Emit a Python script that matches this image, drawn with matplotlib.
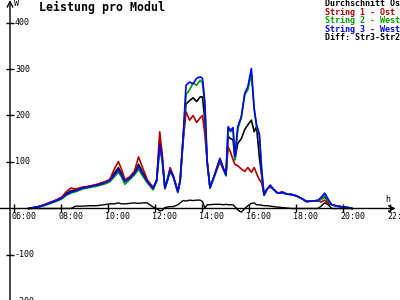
import matplotlib
matplotlib.use("Agg")
from matplotlib import pyplot as plt

# time of day in hours
hours = [6.60, 6.80, 7.00, 7.25, 7.50, 7.75, 8.00, 8.20, 8.40, 8.60,
         8.90, 9.20, 9.50, 9.80, 10.05, 10.25, 10.42, 10.55, 10.70, 10.90,
         11.10, 11.28, 11.45, 11.65, 11.90, 12.05, 12.18, 12.28, 12.40, 12.50,
         12.62, 12.75, 12.95, 13.05, 13.17, 13.30, 13.45, 13.60, 13.75, 13.90,
         14.00, 14.10, 14.20, 14.32, 14.50, 14.74, 14.90, 15.00, 15.09, 15.20,
         15.30, 15.38, 15.50, 15.65, 15.80, 15.93, 16.08, 16.20, 16.30, 16.42,
         16.52, 16.62, 16.75, 16.88, 17.05, 17.20, 17.40, 17.60, 17.80, 18.00,
         18.20, 18.43, 18.65, 18.90, 19.05, 19.20, 19.35, 19.50, 19.75, 20.00,
         20.20, 20.36]

# power per module in W
avg = [0, 2, 4, 7, 12, 17, 23, 32, 38, 40,
       45, 48, 51, 56, 61, 76, 88, 76, 58, 66,
       76, 95, 78, 60, 44, 60, 145, 112, 44, 60,
       83, 70, 36, 60, 148, 225, 232, 238, 230, 240,
       240, 190, 100, 45, 70, 105, 84, 72, 155, 150,
       148, 105, 140, 150, 170, 180, 190, 165, 176, 110,
       70, 29, 42, 48, 40, 33, 34, 31, 30, 27,
       22, 15, 16, 17, 20, 25, 15, 8, 5, 3,
       2, 0]
ost = [0, 2, 4, 8, 13, 18, 24, 36, 44, 42,
       46, 48, 52, 57, 62, 85, 101, 85, 62, 68,
       80, 111, 88, 62, 45, 62, 165, 120, 44, 60,
       88, 72, 38, 60, 140, 208, 190, 200, 185, 195,
       200, 160, 100, 45, 68, 100, 82, 72, 133, 120,
       105, 95, 92, 85, 80, 88, 78, 88, 75, 62,
       55, 29, 42, 46, 40, 33, 36, 31, 30, 27,
       22, 15, 16, 17, 14, 18, 10, 8, 5, 3,
       2, 0]
west2 = [0, 1, 3, 6, 10, 15, 20, 28, 33, 36,
         42, 45, 48, 52, 57, 68, 78, 68, 52, 62,
         72, 84, 70, 55, 40, 58, 128, 104, 42, 58,
         78, 68, 34, 58, 145, 245, 255, 270, 265, 276,
         270, 220, 98, 43, 70, 106, 84, 70, 170, 165,
         170, 105, 170, 195, 245, 255, 290, 212, 176, 158,
         80, 28, 42, 50, 40, 33, 34, 31, 30, 27,
         22, 15, 16, 17, 20, 28, 16, 8, 5, 3,
         2, 0]
west3 = [0, 2, 3, 7, 12, 16, 22, 30, 35, 38,
         44, 47, 50, 54, 60, 72, 83, 72, 58, 65,
         75, 90, 75, 58, 43, 60, 136, 110, 44, 60,
         83, 70, 36, 60, 150, 265, 272, 268, 280, 283,
         280, 230, 100, 45, 70, 108, 85, 72, 176, 168,
         174, 111, 176, 197, 248, 262, 301, 215, 180, 160,
         83, 29, 42, 50, 40, 33, 34, 31, 30, 27,
         22, 15, 16, 17, 24, 33, 20, 8, 5, 3,
         2, 0]
diff = [0, 0, 0, 0, 0, 0, 0, 0, 0, 5,
        5, 6, 6, 8, 10, 10, 12, 10, 10, 11,
        12, 11, 12, 12, 3, 0, -5, -4, 2, 3,
        4, 4, 8, 12, 17, 16, 18, 17, 18, 18,
        15, 1, 8, 8, 9, 9, 8, 9, 8, 8,
        8, 4, -3, -8, 0, 6, 11, 12, 8, 8,
        7, 6, 6, 5, 4, 3, 2, 1, 0, 0,
        0, 0, 0, 0, 5, 12, 8, 0, 0, 0,
        0, 0]

x_ticks = [6, 8, 10, 12, 14, 16, 18, 20, 22]
x_labels = ["06:00", "08:00", "10:00", "12:00", "14:00", "16:00", "18:00", "20:00", "22:00"]
y_ticks = [400, 300, 200, 100, -100, -200]

legend_names = ["Durchschnitt Ost", "String 1 - Ost", "String 2 - West", "String 3 - West", "Diff: Str3-Str2"]
legend_colors = ["black", "#b00000", "#00a000", "#0000ff", "black"]

mono = "DejaVu Sans Mono"

fig = plt.figure(figsize=(4, 3), dpi=100)
ax = fig.add_axes([0, 0, 1, 1])
ax.axis("off")
ax.set_xlim(5.383, 22.405)
ax.set_ylim(-196.8, 448.4)

x0 = 5.809  # where the vertical axis sits

# axes with arrows
ax.annotate("", xy=(22.22, 0), xytext=(5.383, 0),
            arrowprops=dict(arrowstyle="->", lw=1, color="black", shrinkA=0, shrinkB=0))
ax.annotate("", xy=(x0, 1.0), xytext=(x0, 0.0), xycoords=("data", "axes fraction"),
            textcoords=("data", "axes fraction"),
            arrowprops=dict(arrowstyle="->", lw=1, color="black", shrinkA=0, shrinkB=0))

# curves
ax.plot(hours, diff, color="black", lw=1)
ax.plot(hours, avg, color="black", lw=1.2)
ax.plot(hours, ost, color=legend_colors[1], lw=1.2)
ax.plot(hours, west2, color=legend_colors[2], lw=1.2)
ax.plot(hours, west3, color=legend_colors[3], lw=1.2)

# ticks and labels
ax.plot(x_ticks, [0] * len(x_ticks), "|", color="black", ms=6, mew=1)
for t, lab in zip(x_ticks, x_labels):
    ax.annotate(lab, xy=(t, 0), xytext=(-3, -4), textcoords="offset pixels",
                ha="left", va="top", fontsize=6, family=mono, annotation_clip=False)
ax.plot([x0] * len(y_ticks), y_ticks, "_", color="black", ms=6, mew=1)
for v in y_ticks:
    ax.annotate(str(v), xy=(x0, v), xytext=(5, 0), textcoords="offset pixels",
                ha="left", va="center", fontsize=6, family=mono, annotation_clip=False)

fig.text(14 / 400, 1 - 4 / 300, "W", fontsize=6, family=mono, va="center", ha="left")
fig.text(385 / 400, 1 - 199 / 300, "h", fontsize=6, family=mono, va="center", ha="left")
fig.text(39 / 400, 1 - 7 / 300, "Leistung pro Modul", fontsize=8.4, family=mono,
         fontweight="bold", va="center", ha="left")

for i, (name, col) in enumerate(zip(legend_names, legend_colors)):
    fig.text(325 / 400, 1 - (4 + 8.4 * i) / 300, name, fontsize=6, family=mono,
             fontweight="bold", color=col, va="center", ha="left")

fig.savefig("out.png", dpi=100)
